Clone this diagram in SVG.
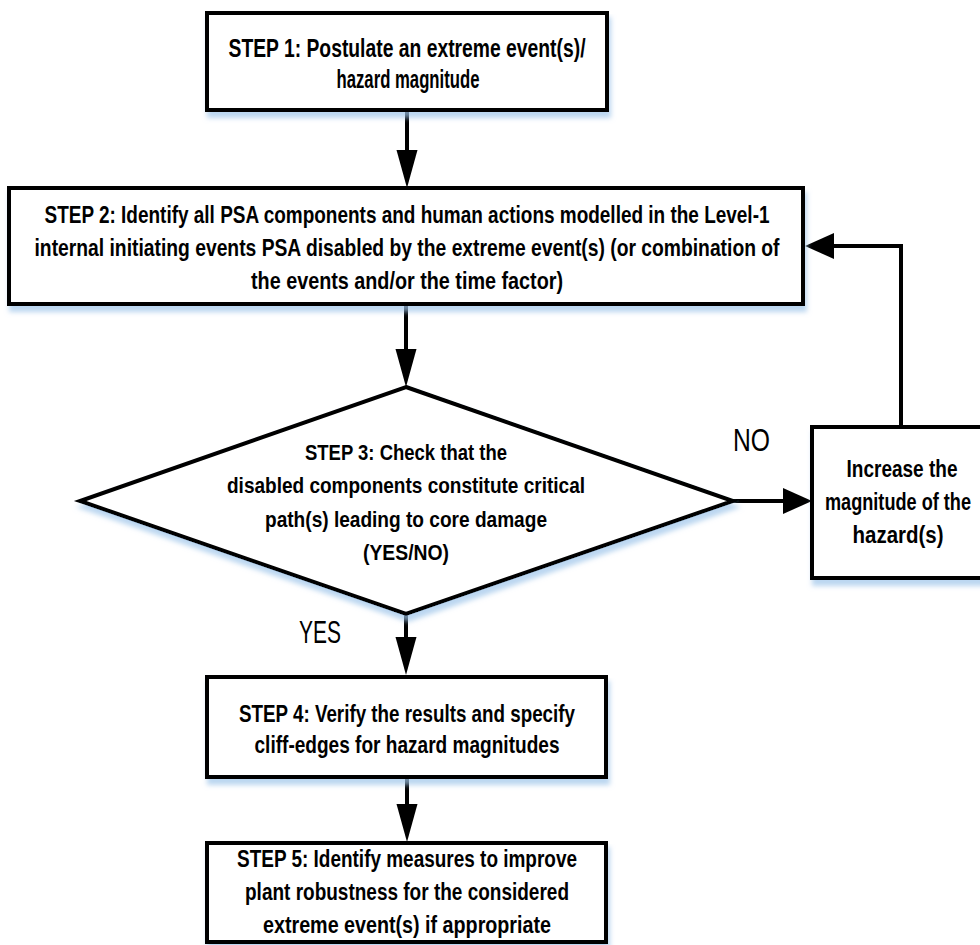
<svg xmlns="http://www.w3.org/2000/svg" width="980" height="945" viewBox="0 0 980 945">
<style>
  .node{fill:#ffffff;stroke:#000000;stroke-width:4;stroke-linejoin:miter}
  .t{font-family:"Liberation Sans",Arial,sans-serif;font-weight:bold;font-size:24px;fill:#000000;text-anchor:middle}
  .t1{font-size:26px}
  .td{font-size:22px}
  .lbl{font-family:"Liberation Sans",Arial,sans-serif;font-size:31px;fill:#000000}
  .conn{fill:none;stroke:#000000;stroke-width:4}
</style>
<defs>
  <filter id="sh" x="-5%" y="-5%" width="112%" height="135%">
    <feGaussianBlur in="SourceAlpha" stdDeviation="2.5"/>
    <feOffset dx="2" dy="6" result="b"/>
    <feFlood flood-color="#9ec5ea" flood-opacity="0.7"/>
    <feComposite in2="b" operator="in"/>
    <feMerge><feMergeNode/><feMergeNode in="SourceGraphic"/></feMerge>
  </filter>
  <marker id="arrV" markerUnits="userSpaceOnUse" markerWidth="40" markerHeight="24" viewBox="0 -12 40 24" refX="0" refY="0" orient="auto">
    <path d="M0,-10.5 L38,0 L0,10.5 Z" fill="#000000"/>
  </marker>
  <marker id="arrH" markerUnits="userSpaceOnUse" markerWidth="32" markerHeight="28" viewBox="0 -14 32 28" refX="0" refY="0" orient="auto">
    <path d="M0,-13 L29,0 L0,13 Z" fill="#000000"/>
  </marker>
</defs>
<rect width="980" height="945" fill="#ffffff"/>

<g id="connectors">
  <path class="conn" d="M407,110 L407,150" marker-end="url(#arrV)"/>
  <path class="conn" d="M406,304 L406,349" marker-end="url(#arrV)"/>
  <path class="conn" d="M406,614 L406,637" marker-end="url(#arrV)"/>
  <path class="conn" d="M407,777 L407,804" marker-end="url(#arrV)"/>
  <path class="conn" d="M733,501 L783,501" marker-end="url(#arrH)"/>
  <path class="conn" d="M901,427 L901,246 L834,246" marker-end="url(#arrH)"/>
  <text class="lbl" x="733" y="451" textLength="37" lengthAdjust="spacingAndGlyphs">NO</text>
  <text class="lbl" x="299" y="643" textLength="42" lengthAdjust="spacingAndGlyphs">YES</text>
</g>

<g id="step1">
  <rect class="node" x="207" y="13" width="400" height="97" filter="url(#sh)"/>
  <text class="t t1" x="407" y="57" textLength="357" lengthAdjust="spacingAndGlyphs">STEP 1: Postulate an extreme event(s)/</text>
  <text class="t t1" x="408" y="88" textLength="143" lengthAdjust="spacingAndGlyphs">hazard magnitude</text>
</g>

<g id="step2">
  <rect class="node" x="9" y="188" width="794" height="116" filter="url(#sh)"/>
  <text class="t" x="407" y="223" textLength="725" lengthAdjust="spacingAndGlyphs">STEP 2: Identify all PSA components and human actions modelled in the Level-1</text>
  <text class="t" x="407" y="256" textLength="745" lengthAdjust="spacingAndGlyphs">internal initiating events PSA disabled by the extreme event(s) (or combination of</text>
  <text class="t" x="407" y="289" textLength="312" lengthAdjust="spacingAndGlyphs">the events and/or the time factor)</text>
</g>

<g id="step3">
  <polygon class="node" points="406,387 733,501 406,614 80,501" filter="url(#sh)"/>
  <text class="t td" x="406" y="460" textLength="202" lengthAdjust="spacingAndGlyphs">STEP 3: Check that the</text>
  <text class="t td" x="406" y="493" textLength="358" lengthAdjust="spacingAndGlyphs">disabled components constitute critical</text>
  <text class="t td" x="406" y="527" textLength="282" lengthAdjust="spacingAndGlyphs">path(s) leading to core damage</text>
  <text class="t td" x="406" y="560" textLength="86" lengthAdjust="spacingAndGlyphs">(YES/NO)</text>
</g>

<g id="increase">
  <rect class="node" x="812" y="427" width="180" height="151" filter="url(#sh)"/>
  <text class="t" x="902" y="477" textLength="111" lengthAdjust="spacingAndGlyphs">Increase the</text>
  <text class="t" x="898" y="510" textLength="146" lengthAdjust="spacingAndGlyphs">magnitude of the</text>
  <text class="t" x="898" y="543" textLength="91" lengthAdjust="spacingAndGlyphs">hazard(s)</text>
</g>

<g id="step4">
  <rect class="node" x="207" y="677" width="399" height="100" filter="url(#sh)"/>
  <text class="t" x="407" y="722" textLength="336" lengthAdjust="spacingAndGlyphs">STEP 4: Verify the results and specify</text>
  <text class="t" x="407" y="753" textLength="305" lengthAdjust="spacingAndGlyphs">cliff-edges for hazard magnitudes</text>
</g>

<g id="step5">
  <rect class="node" x="207" y="843" width="399" height="99" filter="url(#sh)"/>
  <text class="t" x="407" y="867" textLength="340" lengthAdjust="spacingAndGlyphs">STEP 5: Identify measures to improve</text>
  <text class="t" x="407" y="900" textLength="324" lengthAdjust="spacingAndGlyphs">plant robustness for the considered</text>
  <text class="t" x="407" y="933" textLength="288" lengthAdjust="spacingAndGlyphs">extreme event(s) if appropriate</text>
</g>
</svg>
